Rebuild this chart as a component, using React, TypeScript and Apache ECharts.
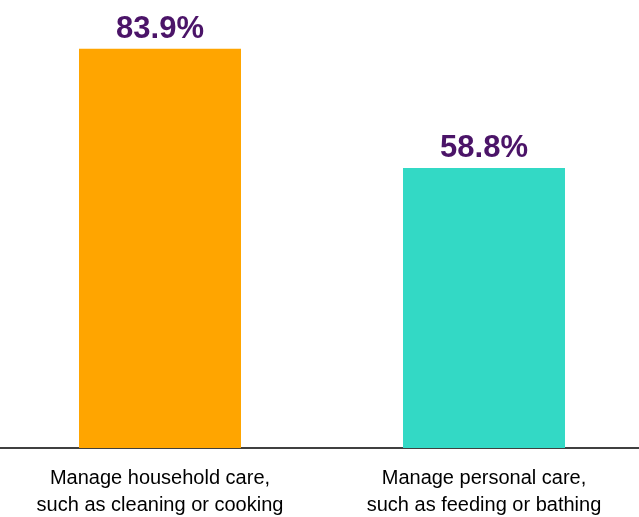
import React, { useEffect, useRef } from "react";
import * as echarts from "echarts";

const categories = [
  "Manage household care,\nsuch as cleaning or cooking",
  "Manage personal care,\nsuch as feeding or bathing",
];
const values = [83.9, 58.8];
const barColors = ["#FFA500", "#33D9C5"];

export default function App() {
  const ref = useRef<HTMLDivElement>(null);
  useEffect(() => {
    if (!ref.current) return;
    const chart = echarts.init(ref.current, null, { renderer: "svg" });
    chart.setOption({
      animation: false,
      grid: { left: 0, right: 0, top: 0, bottom: 68, containLabel: false },
      xAxis: {
        type: "category",
        data: categories,
        axisLine: { show: true, lineStyle: { color: "#000", width: 1.5 } },
        axisTick: { show: false },
        axisLabel: {
          color: "#000",
          fontFamily: "'Liberation Sans', Arial, sans-serif",
          fontSize: 20,
          lineHeight: 27,
          margin: 15,
          interval: 0,
        },
      },
      yAxis: {
        type: "value",
        min: 0,
        max: 100,
        show: false,
        splitLine: { show: false },
      },
      series: [
        {
          type: "bar",
          barWidth: "50%",
          data: values.map((v, i) => ({ value: v, itemStyle: { color: barColors[i] } })),
          label: {
            show: true,
            position: "top",
            distance: 6,
            formatter: (p: any) => p.value.toFixed(1) + "%",
            color: "#4B1468",
            fontWeight: "bold",
            fontSize: 31,
            fontFamily: "'Liberation Sans', Arial, sans-serif",
          },
        },
      ],
    });
    return () => chart.dispose();
  }, []);
  return (
    <div
      ref={ref}
      style={{ position: "fixed", left: -2, top: -28, width: 648, height: 545 }}
    />
  );
}
